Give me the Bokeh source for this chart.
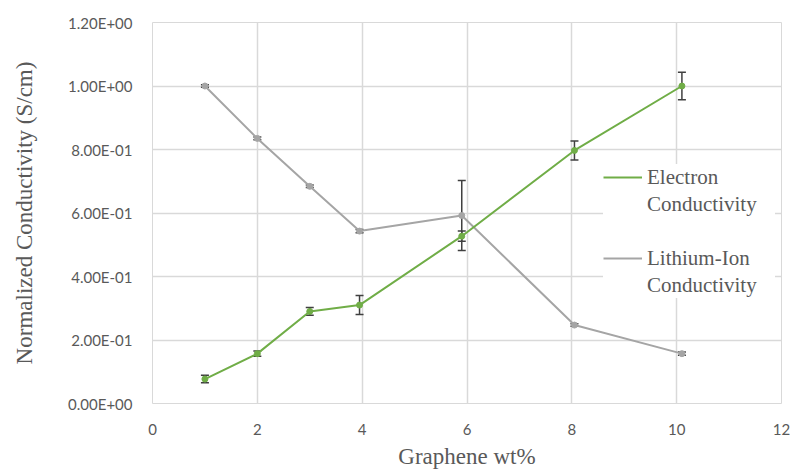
from bokeh.plotting import figure
from bokeh.models import (ColumnDataSource, Whisker, TeeHead, Legend, LegendItem,
                          FixedTicker, CustomJSTickFormatter, Range1d)
from bokeh.embed import file_html
from bokeh.resources import INLINE

# ---- data ----
graphene_wt = [1, 2, 3, 3.95, 5.9, 8.05, 10.1]
electron_cond = [0.077, 0.157, 0.29, 0.31, 0.527, 0.797, 1.0]
electron_err = [0.012, 0.008, 0.012, 0.03, 0.016, 0.03, 0.043]
lithium_cond = [1.0, 0.835, 0.684, 0.543, 0.592, 0.247, 0.157]
lithium_err = [0.004, 0.004, 0.004, 0.005, 0.11, 0.004, 0.005]
x_ticks = [0, 2, 4, 6, 8, 10, 12]
y_ticks = [0.0, 0.2, 0.4, 0.6, 0.8, 1.0, 1.2]
legend_lines = [["Electron", "Conductivity"], ["Lithium-Ion", "Conductivity"]]

GREEN = "#70AD47"
GRAY = "#A5A5A5"
TXT = "#595959"
GRID = "#D9D9D9"
ERR = "#404040"

src_e = ColumnDataSource(dict(
    x=graphene_wt, y=electron_cond,
    lo=[v - e for v, e in zip(electron_cond, electron_err)],
    hi=[v + e for v, e in zip(electron_cond, electron_err)]))
src_l = ColumnDataSource(dict(
    x=graphene_wt, y=lithium_cond,
    lo=[v - e for v, e in zip(lithium_cond, lithium_err)],
    hi=[v + e for v, e in zip(lithium_cond, lithium_err)]))

p = figure(width=790, height=471, output_backend="svg", toolbar_location=None,
           x_range=Range1d(0, 12), y_range=Range1d(0, 1.2),
           min_border_left=152, min_border_right=9, min_border_top=22,
           min_border_bottom=67)
p.outline_line_color = GRID
p.background_fill_color = "white"
p.border_fill_color = "white"

# grids
p.xgrid.grid_line_color = GRID
p.ygrid.grid_line_color = GRID
p.xgrid.grid_line_width = 1.5
p.ygrid.grid_line_width = 1.5

# axes
p.xaxis.ticker = FixedTicker(ticks=x_ticks)
p.yaxis.ticker = FixedTicker(ticks=y_ticks)
p.yaxis.formatter = CustomJSTickFormatter(code="""
    const s = tick.toExponential(2).split('e');
    let e = parseInt(s[1]);
    const sign = e < 0 ? '-' : '+';
    e = Math.abs(e);
    return s[0] + 'E' + sign + (e < 10 ? '0' + e : '' + e);
""")
for ax in (p.xaxis[0], p.yaxis[0]):
    ax.axis_line_color = None
    ax.major_tick_line_color = None
    ax.minor_tick_line_color = None
    ax.major_label_text_font = "Lato"
    ax.major_label_text_font_size = "15px"
    ax.major_label_text_color = TXT
    ax.axis_label_text_font = "Liberation Serif"
    ax.axis_label_text_font_size = "23px"
    ax.axis_label_text_font_style = "normal"
    ax.axis_label_text_color = TXT
p.xaxis.axis_label = "Graphene wt%"
p.yaxis.axis_label = "Normalized Conductivity (S/cm)"
p.xaxis.major_label_standoff = 14
p.yaxis.major_label_standoff = 14
p.xaxis.axis_label_standoff = 6
p.yaxis.axis_label_standoff = 28

# series
l_line = p.line("x", "y", source=src_l, line_color=GRAY, line_width=2)
l_pts = p.scatter("x", "y", source=src_l, size=6, fill_color=GRAY, line_color=GRAY)
e_line = p.line("x", "y", source=src_e, line_color=GREEN, line_width=2)
e_pts = p.scatter("x", "y", source=src_e, size=6, fill_color=GREEN, line_color=GREEN)

for src in (src_e, src_l):
    w = Whisker(base="x", lower="lo", upper="hi", source=src, line_color=ERR,
                line_width=1.5,
                upper_head=TeeHead(size=8, line_color=ERR, line_width=1.5),
                lower_head=TeeHead(size=8, line_color=ERR, line_width=1.5))
    p.add_layout(w)

# invisible placeholder renderer for legend continuation lines
blank = p.line(x=[], y=[], line_alpha=0)

legend = Legend(items=[
    LegendItem(label=legend_lines[0][0], renderers=[e_line]),
    LegendItem(label=legend_lines[0][1], renderers=[blank]),
    LegendItem(label=" ", renderers=[blank]),
    LegendItem(label=legend_lines[1][0], renderers=[l_line]),
    LegendItem(label=legend_lines[1][1], renderers=[blank]),
], location=(451, 105))
legend.label_text_font = "Liberation Serif"
legend.label_text_font_size = "21px"
legend.label_text_color = TXT
legend.border_line_color = None
legend.background_fill_color = "white"
legend.background_fill_alpha = 1.0
legend.glyph_width = 39
legend.glyph_height = 26
legend.label_height = 26
legend.label_width = 128
legend.spacing = 1
legend.padding = 14
legend.margin = 0
legend.label_standoff = 5
p.add_layout(legend)

open("out.html", "w").write(file_html(p, INLINE))
